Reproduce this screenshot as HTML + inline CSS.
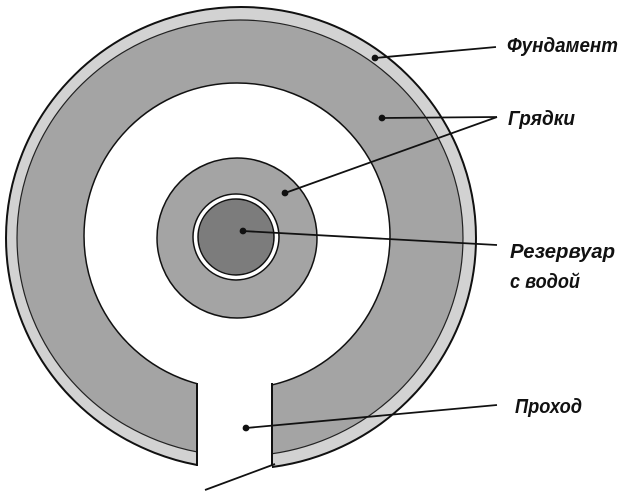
<!DOCTYPE html>
<html><head><meta charset="utf-8"><style>
html,body{margin:0;padding:0;background:#fff;}
svg{display:block;}
text{font-family:"Liberation Sans Narrow","Liberation Sans",sans-serif;font-weight:bold;font-style:italic;font-size:20px;fill:#111;}
</style></head><body>
<svg width="621" height="491" viewBox="0 0 621 491" xmlns="http://www.w3.org/2000/svg">
<rect width="621" height="491" fill="#fff"/>
<ellipse cx="241" cy="238" rx="235" ry="231" fill="#d2d2d2" stroke="#111" stroke-width="2"/>
<ellipse cx="240" cy="238" rx="223" ry="218" fill="#a4a4a4" stroke="#222" stroke-width="1.2"/>
<ellipse cx="237" cy="236" rx="153" ry="153" fill="#fff" stroke="#111" stroke-width="1.5"/>
<rect x="197" y="370" width="75" height="125" fill="#fff"/>
<line x1="197" y1="383" x2="197" y2="466" stroke="#111" stroke-width="2"/>
<line x1="272" y1="383" x2="272" y2="466" stroke="#111" stroke-width="2"/>
<circle cx="237" cy="238" r="80" fill="#a4a4a4" stroke="#111" stroke-width="1.5"/>
<circle cx="236" cy="237" r="43" fill="#fff" stroke="#111" stroke-width="1.5"/>
<circle cx="236" cy="237" r="38" fill="#7c7c7c" stroke="#111" stroke-width="1.5"/>
<g stroke="#111" stroke-width="1.8" fill="#111">
<line x1="375" y1="58" x2="496" y2="47"/><circle cx="375" cy="58" r="2.5"/>
<line x1="382" y1="118" x2="497" y2="117"/><circle cx="382" cy="118" r="2.5"/>
<line x1="285" y1="193" x2="497" y2="117"/><circle cx="285" cy="193" r="2.5"/>
<line x1="243" y1="231" x2="497" y2="245"/><circle cx="243" cy="231" r="2.5"/>
<line x1="246" y1="428" x2="497" y2="405"/><circle cx="246" cy="428" r="2.5"/>
<line x1="275" y1="464" x2="205" y2="490"/>
</g>
<text x="507" y="52" textLength="111" lengthAdjust="spacingAndGlyphs">Фундамент</text>
<text x="508" y="125" textLength="67" lengthAdjust="spacingAndGlyphs">Грядки</text>
<text x="510" y="258" textLength="105" lengthAdjust="spacingAndGlyphs">Резервуар</text>
<text x="510" y="288" textLength="70" lengthAdjust="spacingAndGlyphs">с водой</text>
<text x="515" y="413" textLength="67" lengthAdjust="spacingAndGlyphs">Проход</text>
</svg>
</body></html>
